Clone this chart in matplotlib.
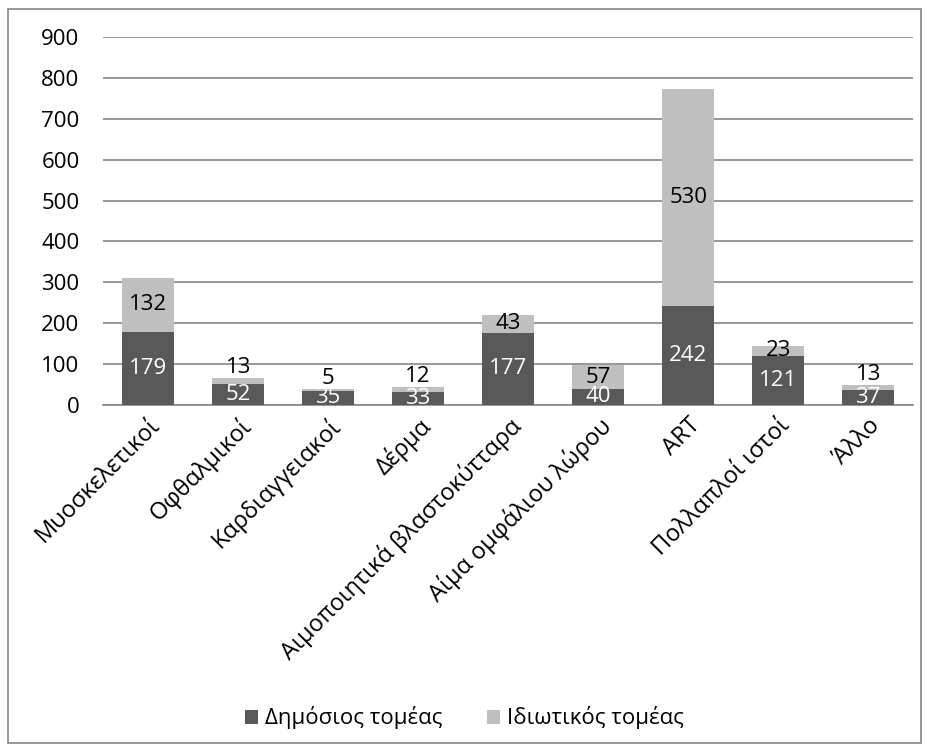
import matplotlib.pyplot as plt
import numpy as np

plt.rcParams['font.family'] = ['Open Sans', 'DejaVu Sans']

categories = ['Μυοσκελετικοί', 'Οφθαλμικοί', 'Καρδιαγγειακοί', 'Δέρμα',
              'Αιμοποιητικά βλαστοκύτταρα', 'Αίμα ομφάλιου λώρου', 'ART',
              'Πολλαπλοί ιστοί', 'Άλλο']
public = [179, 52, 35, 33, 177, 40, 242, 121, 37]
private = [132, 13, 5, 12, 43, 57, 530, 23, 13]
yticks = [0, 100, 200, 300, 400, 500, 600, 700, 800, 900]

dark = '#595959'
light = '#bfbfbf'
fs = 16

fig = plt.figure(figsize=(9.29, 7.51), dpi=100)
ax = fig.add_axes([0.111, 0.4607, 0.872, 0.49])

x = np.arange(len(categories))
b1 = ax.bar(x, public, width=0.58, color=dark, zorder=3, label='Δημόσιος τομέας')
b2 = ax.bar(x, private, width=0.58, bottom=public, color=light, zorder=3, label='Ιδιωτικός τομέας')

for i in range(len(x)):
    ax.text(x[i], public[i] / 2, str(public[i]), ha='center', va='center',
            color='white', fontsize=fs, zorder=4)
    if private[i] < 20:
        # too thin to hold the label: sit it on top of the bar
        ax.annotate(str(private[i]), (x[i], public[i] + private[i]), xytext=(0, 0),
                    textcoords='offset pixels', ha='center', va='bottom',
                    color='black', fontsize=fs, zorder=4)
    else:
        ax.text(x[i], public[i] + private[i] / 2, str(private[i]), ha='center', va='center',
                color='black', fontsize=fs, zorder=4)

ax.set_xlim(-0.5, len(categories) - 0.5)
ax.set_ylim(0, 900)
ax.set_yticks(yticks)
ax.yaxis.grid(True, color='#868686', linewidth=1.2, zorder=0)
ax.set_xticks(x)
ax.set_xticklabels(categories, rotation=45, ha='right', rotation_mode='anchor', fontsize=17)
ax.tick_params(axis='y', labelsize=fs, length=0, pad=17)
ax.tick_params(axis='x', length=0, pad=6)
for s in ['top', 'right', 'left']:
    ax.spines[s].set_visible(False)
ax.spines['bottom'].set_color('#868686')
ax.spines['bottom'].set_linewidth(1.2)

fig.legend(handles=[b1, b2], loc='center', bbox_to_anchor=(0.5, 0.044), ncol=2,
           frameon=False, fontsize=fs, handlelength=0.6, handleheight=0.6,
           handletextpad=0.3, columnspacing=2.0)

border = plt.Rectangle((0.009, 0.01), 0.982, 0.978, transform=fig.transFigure,
                       fill=False, edgecolor='#868686', linewidth=1.2)
fig.patches.append(border)

fig.savefig('out.png', dpi=100)
